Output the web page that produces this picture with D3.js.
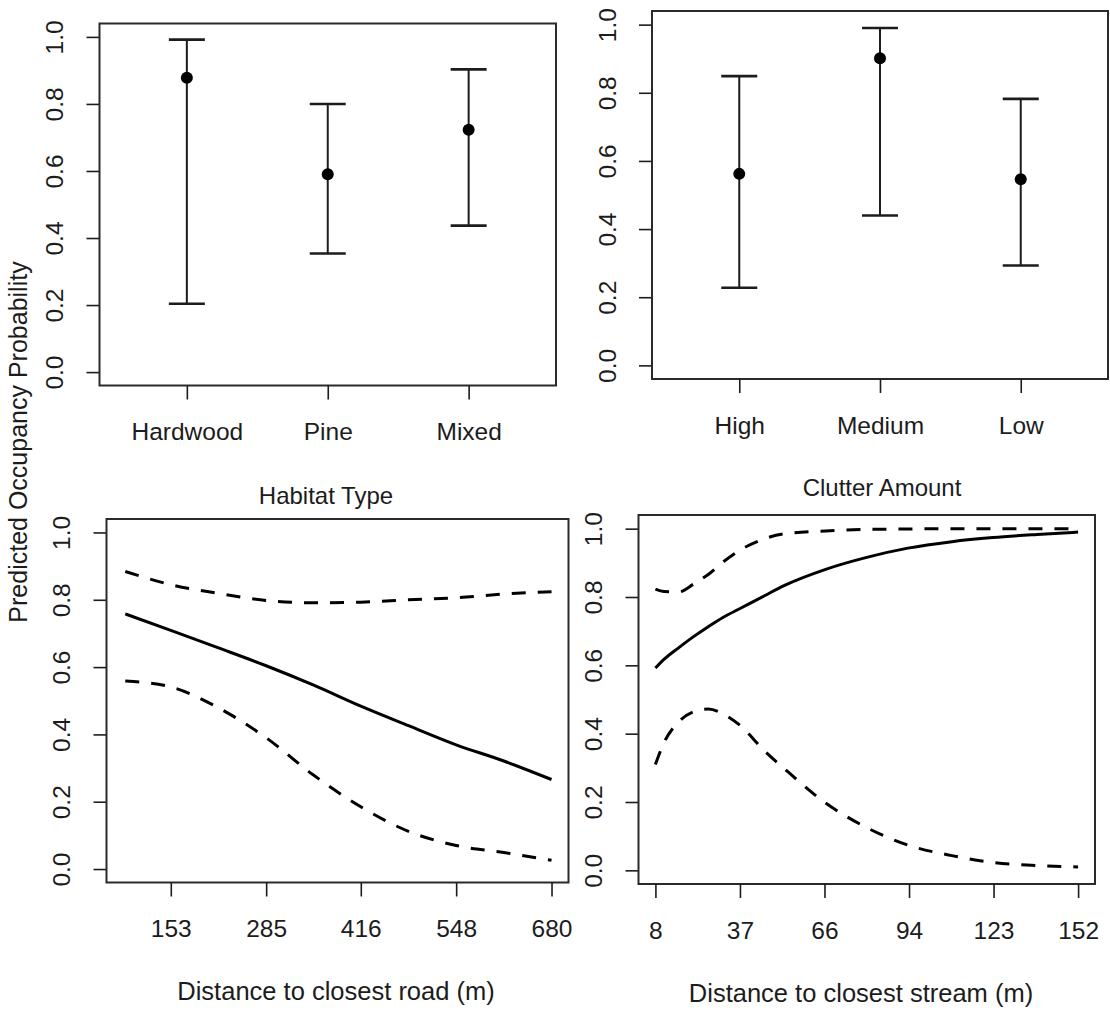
<!DOCTYPE html>
<html>
<head>
<meta charset="utf-8">
<script src="https://cdn.jsdelivr.net/npm/d3@7"></script>
<style>
  body { margin: 0; background: #fff; }
  svg { display: block; font-family: "Liberation Sans", Arial, sans-serif; }
</style>
</head>
<body>
<svg id="chart" width="1110" height="1015"></svg>
<script>
// Habitat type (top left)
const habitatCats = ["Hardwood", "Pine", "Mixed"];
const habitatEst = [0.878, 0.590, 0.723];
const habitatLo = [0.204, 0.354, 0.437];
const habitatHi = [0.992, 0.800, 0.903];

// Clutter amount (top right)
const clutterCats = ["High", "Medium", "Low"];
const clutterEst = [0.562, 0.901, 0.546];
const clutterLo = [0.228, 0.440, 0.293];
const clutterHi = [0.849, 0.990, 0.782];

const yTicks = [0, 0.2, 0.4, 0.6, 0.8, 1.0];

// Distance to road (bottom left)
const roadDist = [90, 153, 219, 285, 350, 416, 482, 548, 614, 680];
const roadFit = [0.758, 0.709, 0.657, 0.604, 0.547, 0.484, 0.426, 0.369, 0.321, 0.266];
const roadLo = [0.559, 0.541, 0.479, 0.390, 0.280, 0.185, 0.112, 0.070, 0.049, 0.026];
const roadHi = [0.884, 0.845, 0.819, 0.798, 0.791, 0.793, 0.800, 0.806, 0.817, 0.824];
const roadTicks = [153, 285, 416, 548, 680];

// Distance to stream (bottom right)
const streamDist = [8, 11, 16, 21, 26, 31, 37, 45, 52, 66, 80, 94, 109, 123, 138, 152];
const streamFit = [0.592, 0.618, 0.652, 0.684, 0.713, 0.740, 0.767, 0.803, 0.834, 0.881, 0.916, 0.943, 0.962, 0.974, 0.983, 0.990];
const streamLo = [0.310, 0.375, 0.435, 0.464, 0.472, 0.458, 0.423, 0.351, 0.297, 0.197, 0.125, 0.074, 0.043, 0.023, 0.014, 0.010];
const streamHi = [0.823, 0.816, 0.815, 0.838, 0.866, 0.902, 0.938, 0.970, 0.985, 0.993, 0.998, 0.999, 1.0, 1.0, 1.0, 1.0];
const streamTicks = [8, 36.8, 65.6, 94.4, 123.2, 152];

const svg = d3.select("#chart");
const ink = "#1c1c1c";

function makePanel(box, xDomain) {
    const g = svg.append("g");
    const x = d3.scaleLinear().domain(xDomain).range([box.left, box.right]);
    const y = d3.scaleLinear().domain([-0.04, 1.04]).range([box.bottom, box.top]);

    // y axis with rotated labels like R
    const ya = g.append("g")
        .attr("transform", `translate(${box.left},0)`)
        .call(d3.axisLeft(y).tickValues(yTicks).tickSize(13).tickFormat(d3.format(".1f")));
    ya.select(".domain").remove();
    ya.selectAll("line").attr("stroke", ink).attr("stroke-width", 1.6);
    ya.selectAll("text")
        .attr("x", 0).attr("y", -45).attr("dy", null)
        .attr("transform", "rotate(-90)")
        .attr("text-anchor", "middle")
        .attr("dominant-baseline", "central")
        .attr("fill", ink)
        .style("font-size", "24.5px")
        .style("font-family", "Liberation Sans, Arial, sans-serif");

    g.append("rect")
        .attr("x", box.left).attr("y", box.top)
        .attr("width", box.right - box.left).attr("height", box.bottom - box.top)
        .attr("fill", "none").attr("stroke", "#2a2a2a").attr("stroke-width", 2);

    return { g, x, y };
}

function bottomAxis(p, box, ticks, fmt) {
    const xa = p.g.append("g")
        .attr("transform", `translate(0,${box.bottom})`)
        .call(d3.axisBottom(p.x).tickValues(ticks).tickSize(14).tickFormat(fmt));
    xa.select(".domain").remove();
    xa.selectAll("line").attr("stroke", ink).attr("stroke-width", 1.6);
    xa.selectAll("text")
        .attr("y", 46).attr("dy", null)
        .attr("dominant-baseline", "central")
        .attr("fill", ink)
        .style("font-size", "24.5px")
        .style("font-family", "Liberation Sans, Arial, sans-serif");
}

function errorPanel(box, cats, est, lo, hi) {
    const p = makePanel(box, [0.38, 3.62]);
    const idx = cats.map((c, i) => i + 1);
    bottomAxis(p, box, idx, i => cats[i - 1]);

    p.g.selectAll(".bar").data(idx).join("line")
        .attr("x1", d => p.x(d)).attr("x2", d => p.x(d))
        .attr("y1", d => p.y(lo[d - 1])).attr("y2", d => p.y(hi[d - 1]))
        .attr("stroke", ink).attr("stroke-width", 2);

    [lo, hi].forEach(v => {
        p.g.selectAll(null).data(idx).join("line")
            .attr("x1", d => p.x(d) - 18).attr("x2", d => p.x(d) + 18)
            .attr("y1", d => p.y(v[d - 1])).attr("y2", d => p.y(v[d - 1]))
            .attr("stroke", ink).attr("stroke-width", 2.6);
    });

    p.g.selectAll("circle").data(idx).join("circle")
        .attr("cx", d => p.x(d)).attr("cy", d => p.y(est[d - 1]))
        .attr("r", 6).attr("fill", "#000");
}

function curvePanel(box, xDomain, xs, fit, lo, hi, ticks) {
    const p = makePanel(box, xDomain);
    bottomAxis(p, box, ticks, d3.format(".0f"));

    const line = vals => d3.line()
        .x((d, i) => p.x(xs[i]))
        .y(d => p.y(d))
        .curve(d3.curveMonotoneX)(vals);

    p.g.append("path").attr("d", line(fit))
        .attr("fill", "none").attr("stroke", "#000").attr("stroke-width", 3);
    [lo, hi].forEach(v => {
        p.g.append("path").attr("d", line(v))
            .attr("fill", "none").attr("stroke", "#000").attr("stroke-width", 3)
            .attr("stroke-dasharray", "14,12");
    });
}

errorPanel({ left: 99.5, right: 556, top: 23.5, bottom: 385.5 }, habitatCats, habitatEst, habitatLo, habitatHi);
errorPanel({ left: 652, right: 1108, top: 11, bottom: 379 }, clutterCats, clutterEst, clutterLo, clutterHi);

curvePanel({ left: 106.5, right: 568.5, top: 519, bottom: 882.5 }, [64, 703.5],
    roadDist, roadFit, roadLo, roadHi, roadTicks);
curvePanel({ left: 638.5, right: 1095, top: 515, bottom: 884 }, [2.24, 157.76],
    streamDist, streamFit, streamLo, streamHi, streamTicks);

// titles and axis labels
const label = (x, y, txt, size, rot) => svg.append("text")
    .attr("transform", `translate(${x},${y})` + (rot ? " rotate(-90)" : ""))
    .attr("text-anchor", "middle")
    .attr("dominant-baseline", "central")
    .attr("fill", ink)
    .style("font-size", size + "px")
    .text(txt);

label(326, 495, "Habitat Type", 24);
label(882, 487.5, "Clutter Amount", 24);
label(336, 991, "Distance to closest road (m)", 25.5);
label(861, 992.5, "Distance to closest stream (m)", 25.5);
label(18, 442, "Predicted Occupancy Probability", 25, true);
</script>
</body>
</html>
